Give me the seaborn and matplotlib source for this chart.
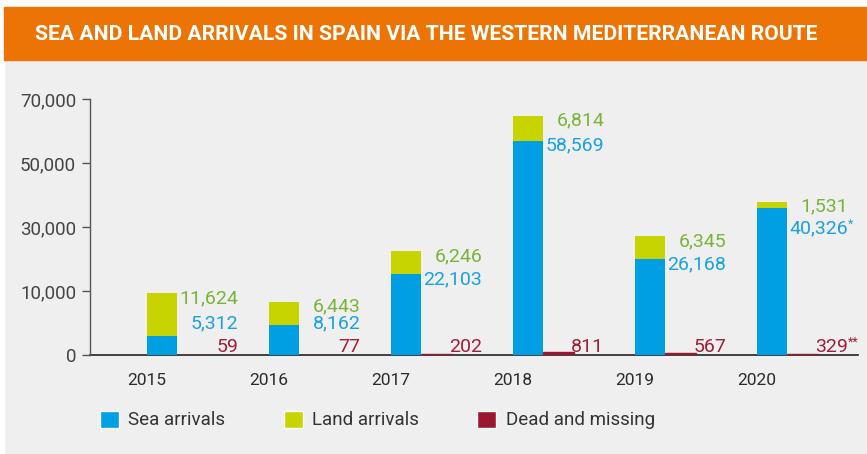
import numpy as np
import pandas as pd
import seaborn as sns
import matplotlib.pyplot as plt
from matplotlib.patches import Patch, Rectangle

# data
years = ['2015', '2016', '2017', '2018', '2019', '2020']
sea = [5312, 8162, 22103, 58569, 26168, 40326]
land = [11624, 6443, 6246, 6814, 6345, 1531]
dead = [59, 77, 202, 811, 567, 329]
sea_note = ['', '', '', '', '', '*']
dead_note = ['', '', '', '', '', '**']
ytick_labels = ['0', '10,000', '30,000', '50,000', '70,000']
series_names = ['Sea arrivals', 'Land arrivals', 'Dead and missing']
title = 'SEA AND LAND ARRIVALS IN SPAIN VIA THE WESTERN MEDITERRANEAN ROUTE'

SEA_C = '#009fe3'
LAND_C = '#c8d400'
DEAD_C = '#9b1730'
GREEN_T = '#79b33a'
BLUE_T = '#1ba1e2'
RED_T = '#a21d37'
ORANGE = '#ec7404'
BG = '#efefef'

sns.set_theme(style='white')
plt.rcParams['font.family'] = ['Roboto', 'DejaVu Sans']

df = pd.DataFrame({'year': years, 'sea': sea, 'land': land, 'dead': dead})
df['total'] = df['sea'] + df['land']
df['kind'] = 'arr'
df_dead = df.copy()
df_dead['kind'] = 'dead'

# two empty hue slots push the bars right of the tick
hue_order = ['_a', '_b', 'arr', 'dead']

fig = plt.figure(figsize=(8.67, 4.54), dpi=100, facecolor=BG)
fig.add_artist(Rectangle((0, 1 - 7/454), 1, 7/454, transform=fig.transFigure,
                         color='white', zorder=0))
fig.add_artist(Rectangle((0, 0), 4/867, 1, transform=fig.transFigure,
                         color='white', zorder=0))
fig.add_artist(Rectangle((4/867, 1 - 60/454), 1, 53/454, transform=fig.transFigure,
                         color=ORANGE, zorder=0))
fig.text(35/867, 1 - 35/454, title, color='white', fontsize=15.2, fontweight='bold',
         ha='left', va='center')

ax = fig.add_axes([90/867, 1 - 355/454, (858 - 90)/867, 256/454])
ax.set_facecolor(BG)

common = dict(x='year', hue='kind', hue_order=hue_order, order=years, width=1.0,
              dodge=True, errorbar=None, legend=False, saturation=1, ax=ax)
sns.barplot(data=df, y='total', palette={'_a': LAND_C, '_b': LAND_C, 'arr': LAND_C, 'dead': LAND_C},
            linewidth=0, **common)
sns.barplot(data=df, y='sea', palette={'_a': SEA_C, '_b': SEA_C, 'arr': SEA_C, 'dead': SEA_C},
            linewidth=0, **common)
sns.barplot(data=df_dead, y='dead', palette={'_a': DEAD_C, '_b': DEAD_C, 'arr': DEAD_C, 'dead': DEAD_C},
            linewidth=1, edgecolor=DEAD_C, **common)

ax.set_xlim(-0.467, 5.83)
ax.set_ylim(0, 70000)
ax.set_yticks(np.linspace(0, 70000, 5))
ax.set_yticklabels(ytick_labels)
ax.set_xlabel('')
ax.set_ylabel('')
for s in ['top', 'right']:
    ax.spines[s].set_visible(False)
ax.spines['left'].set_color('#555555')
ax.spines['left'].set_linewidth(1)
ax.spines['bottom'].set_color('#222222')
ax.spines['bottom'].set_linewidth(1.2)
ax.spines['bottom'].set_zorder(0.5)
ax.tick_params(axis='y', left=True, length=6, width=1, color='#555555',
               labelsize=13.5, labelcolor='#444444', pad=4)
ax.tick_params(axis='x', length=0, labelsize=12.5, labelcolor='#2b2b2b', pad=13)

for i in range(len(years)):
    xl = i + 0.75
    total = sea[i] + land[i]
    ax.annotate(f'{land[i]:,}', xy=(xl, total), xytext=(0, 3), textcoords='offset points',
                ha='right', va='top', color=GREEN_T, fontsize=14)
    yb = max(min(sea[i], total - 5800), 10000)
    ax.annotate(f'{sea[i]:,}', xy=(xl, yb), xytext=(0, 3), textcoords='offset points',
                ha='right', va='top', color=BLUE_T, fontsize=14)
    if sea_note[i]:
        ax.annotate(sea_note[i], xy=(xl, yb), xytext=(-0.5, 4), textcoords='offset points',
                    ha='left', va='top', color=BLUE_T, fontsize=9)
    ax.annotate(f'{dead[i]:,}', xy=(xl, 0), xytext=(0, 2), textcoords='offset points',
                ha='right', va='baseline', color=RED_T, fontsize=14)
    if dead_note[i]:
        ax.annotate(dead_note[i], xy=(xl, 0), xytext=(-0.5, 14), textcoords='offset points',
                    ha='left', va='top', color=RED_T, fontsize=9)

handles = [Patch(facecolor=c) for c in [SEA_C, LAND_C, DEAD_C]]
fig.legend(handles, series_names, loc='center left', bbox_to_anchor=(100/867, 1 - 420/454),
           ncol=3, frameon=False, prop={'size': 13.5}, labelcolor='#333333',
           handlelength=1.02, handleheight=1.02, handletextpad=0.5, columnspacing=3.1,
           borderpad=0, borderaxespad=0)

fig.savefig('out.png', dpi=100, facecolor=fig.get_facecolor())
